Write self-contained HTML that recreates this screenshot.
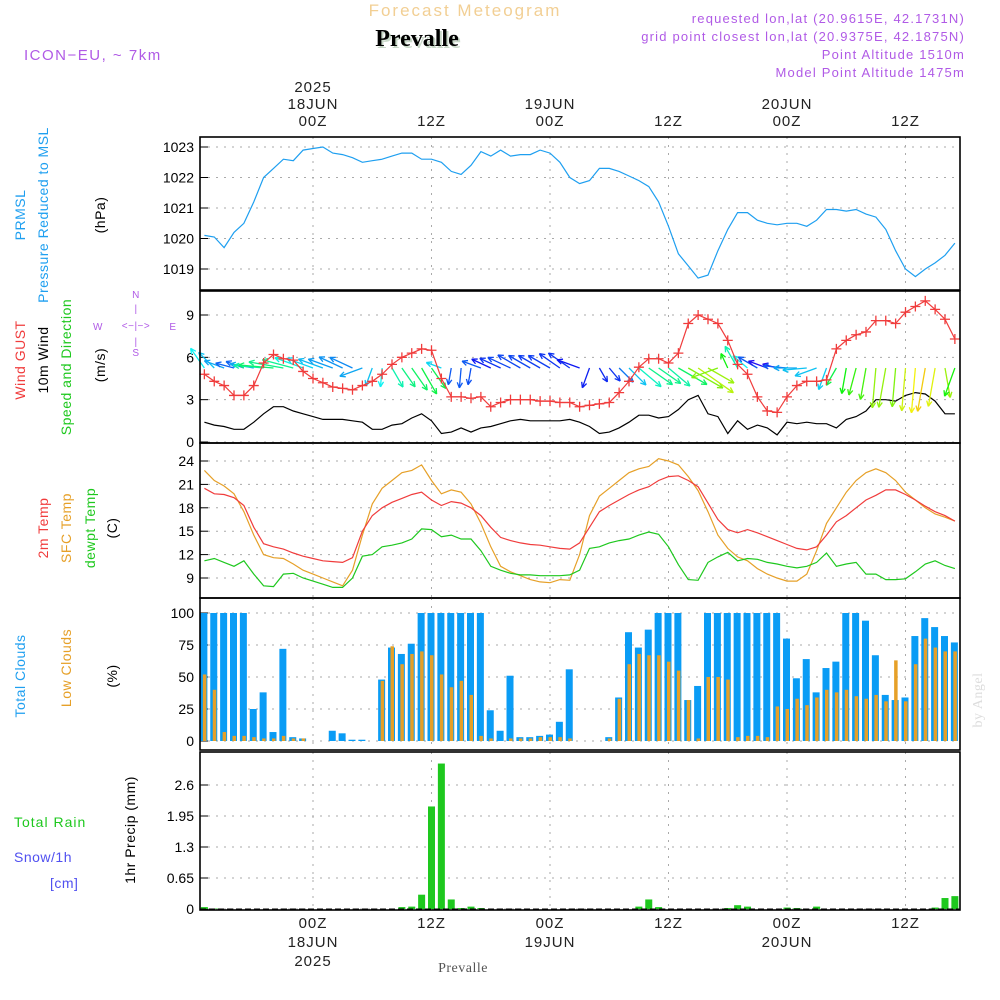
<!DOCTYPE html>
<html><head><meta charset="utf-8"><style>
html,body{margin:0;padding:0;background:#fff;}
svg{display:block;font-family:"Liberation Sans",sans-serif;}
</style></head><body>
<svg id="chart" width="1000" height="1000" viewBox="0 0 1000 1000" xmlns="http://www.w3.org/2000/svg">
<g>
<text x="465" y="16" text-anchor="middle" font-size="17" letter-spacing="2" fill="#f2cf94">Forecast Meteogram</text>
<text x="419" y="48" text-anchor="middle" font-family="Liberation Serif" font-weight="bold" font-size="24" fill="#c8d8c8">Prevalle</text>
<text x="417" y="46" text-anchor="middle" font-family="Liberation Serif" font-weight="bold" font-size="24" fill="#000">Prevalle</text>
<text x="24" y="60" font-size="15" letter-spacing="1.5" fill="#b05ae6">ICON−EU, ~ 7km</text>
<g font-size="13" letter-spacing="1.2" fill="#b05ae6" text-anchor="end">
<text x="965" y="23">requested lon,lat (20.9615E, 42.1731N)</text>
<text x="965" y="41">grid point closest lon,lat (20.9375E, 42.1875N)</text>
<text x="965" y="59">Point Altitude 1510m</text>
<text x="965" y="77">Model Point Altitude 1475m</text>
</g>
</g>
<g id="axes"></g>
<g id="labels" font-size="14" letter-spacing="0.5">
<text transform="translate(25,215) rotate(-90)" text-anchor="middle" fill="#1e9ff0">PRMSL</text>
<text transform="translate(48,215) rotate(-90)" text-anchor="middle" fill="#1e9ff0">Pressure Reduced to MSL</text>
<text transform="translate(105,215) rotate(-90)" text-anchor="middle" fill="#000">(hPa)</text>
<text transform="translate(25,360) rotate(-90)" text-anchor="middle" fill="#f03c3c">Wind GUST</text>
<text transform="translate(48,360) rotate(-90)" text-anchor="middle" fill="#000">10m Wind</text>
<text transform="translate(71,367) rotate(-90)" text-anchor="middle" fill="#1ec81e">Speed and Direction</text>
<text transform="translate(105,365) rotate(-90)" text-anchor="middle" fill="#000">(m/s)</text>
<g fill="#b05ae6" font-size="10" text-anchor="middle">
<text x="136" y="298">N</text><text x="136" y="356">S</text><text x="98" y="330">W</text><text x="173" y="330">E</text>
<text x="136" y="329" font-size="10">&lt;−|−&gt;</text>
<text x="136" y="312">|</text><text x="136" y="345">|</text>
</g>
<text transform="translate(48,528) rotate(-90)" text-anchor="middle" fill="#f03c3c">2m Temp</text>
<text transform="translate(71,528) rotate(-90)" text-anchor="middle" fill="#e6a028">SFC Temp</text>
<text transform="translate(95,528) rotate(-90)" text-anchor="middle" fill="#1ec81e">dewpt Temp</text>
<text transform="translate(117,528) rotate(-90)" text-anchor="middle" fill="#000">(C)</text>
<text transform="translate(25,676) rotate(-90)" text-anchor="middle" fill="#1e9ff0">Total Clouds</text>
<text transform="translate(71,668) rotate(-90)" text-anchor="middle" fill="#e6a028">Low Clouds</text>
<text transform="translate(117,676) rotate(-90)" text-anchor="middle" fill="#000">(%)</text>
<text x="14" y="827" fill="#1ec81e" letter-spacing="1">Total  Rain</text>
<text x="14" y="862" fill="#5050f0">Snow/1h</text>
<text x="50" y="888" fill="#5050f0">[cm]</text>
<text transform="translate(135,830) rotate(-90)" text-anchor="middle" fill="#000">1hr Precip (mm)</text>
<text transform="translate(982,700) rotate(-90)" text-anchor="middle" font-family="Liberation Serif" fill="#ddd">by Angel</text>
<text x="463" y="972" text-anchor="middle" font-family="Liberation Serif" fill="#555">Prevalle</text>
</g>
</svg>
<script>
const hours = Array.from({length:77},(_, i)=> i-11);
const pressure=[1020.1,1020.05,1019.7,1020.2,1020.5,1021.2,1022.0,1022.3,1022.6,1022.55,1022.9,1022.95,1023.0,1022.8,1022.75,1022.65,1022.5,1022.55,1022.6,1022.7,1022.8,1022.8,1022.6,1022.6,1022.5,1022.2,1022.1,1022.4,1022.85,1022.7,1022.9,1022.7,1022.75,1022.75,1022.9,1022.8,1022.5,1022.0,1021.8,1021.9,1022.3,1022.3,1022.2,1022.05,1021.9,1021.7,1021.2,1020.4,1019.5,1019.1,1018.7,1018.8,1019.6,1020.3,1020.85,1020.85,1020.6,1020.5,1020.45,1020.5,1020.5,1020.4,1020.6,1020.95,1020.95,1020.9,1020.95,1020.8,1020.7,1020.3,1019.6,1019.0,1018.75,1019.0,1019.2,1019.45,1019.85];
const gust=[4.8,4.3,4.0,3.3,3.3,4.0,5.6,6.2,5.9,5.8,5.0,4.5,4.2,3.9,3.8,3.7,4.0,4.3,4.8,5.5,6.0,6.3,6.6,6.5,4.5,3.2,3.2,3.1,3.2,2.5,2.8,3.0,3.0,3.0,2.9,2.9,2.8,2.8,2.5,2.6,2.7,2.8,3.5,4.3,5.3,5.9,5.9,5.6,6.3,8.4,9.0,8.7,8.4,7.2,5.5,4.8,3.2,2.2,2.1,3.2,4.0,4.3,4.3,4.4,6.6,7.2,7.6,7.8,8.6,8.6,8.4,9.2,9.6,10.0,9.4,8.7,7.3];
const wind10=[1.4,1.2,1.1,0.9,0.9,1.4,2.0,2.5,2.5,2.2,2.0,1.8,1.6,1.6,1.6,1.5,1.4,0.9,0.9,1.2,1.3,1.7,2.0,1.5,0.6,0.7,1.0,0.7,1.0,1.1,1.3,1.5,1.6,1.5,1.5,1.5,1.5,1.6,1.4,1.1,0.6,0.7,1.0,1.4,1.9,1.9,1.7,1.8,2.3,3.0,3.3,2.0,1.8,0.6,1.5,0.9,1.2,1.0,0.5,1.4,1.3,1.4,1.3,1.3,1.0,1.6,1.8,2.2,3.0,3.0,2.9,3.3,3.5,3.4,2.9,2.0,2.0];
const windDir=[235,225,200,195,200,190,185,185,190,195,200,200,200,200,205,205,160,110,95,60,55,55,60,55,200,100,95,100,200,205,205,205,210,210,210,210,215,215,200,110,60,50,45,45,40,35,35,40,30,30,35,30,160,245,240,220,210,200,195,185,180,175,160,110,120,100,105,100,95,100,95,95,95,100,100,80,110];
const t2m=[20.5,19.8,19.7,19.3,18.3,15.5,13.4,13.0,12.7,12.2,11.8,11.5,11.2,11.1,11.0,11.6,15.0,17.0,18.0,18.7,19.2,19.7,20.0,19.0,18.3,18.8,18.6,18.0,17.0,15.5,14.2,13.8,13.5,13.3,13.2,13.0,12.8,12.7,13.5,15.5,17.5,18.3,19.0,19.7,20.3,20.7,21.5,22.0,22.1,21.5,20.7,18.6,16.5,15.2,14.8,15.2,14.8,14.3,13.8,13.3,12.8,12.6,13.0,14.5,16.2,17.0,18.0,19.0,19.6,20.3,20.3,19.7,19.0,18.2,17.5,17.0,16.3];
const tsfc=[22.8,21.5,20.8,19.8,17.5,14.5,12.0,11.6,11.5,10.8,10.0,9.5,9.0,8.5,8.0,10.0,14.5,18.5,20.5,21.5,22.5,22.8,23.5,21.5,19.8,20.3,20.0,18.5,16.0,13.0,10.5,9.8,9.3,8.8,8.5,8.4,8.8,8.7,12.0,17.0,19.5,20.5,21.5,22.5,23.0,23.3,24.3,24.0,23.5,22.0,20.2,17.5,14.5,12.8,11.7,11.2,10.2,9.5,9.0,8.6,8.6,9.5,12.5,16.0,18.0,20.0,21.5,22.5,23.0,22.5,21.5,20.0,19.0,18.0,17.2,16.8,16.3];
const dewpt=[11.2,11.5,11.0,10.5,11.2,9.5,8.0,7.9,9.5,9.6,9.0,8.6,8.2,7.8,7.8,9.0,11.8,12.0,13.0,13.2,13.5,14.0,15.3,15.2,14.3,14.5,14.0,14.0,12.5,10.5,10.0,9.6,9.4,9.4,9.3,9.3,9.3,9.4,10.0,12.8,13.0,13.5,13.8,14.0,14.5,14.9,14.6,13.0,10.7,8.8,8.7,11.0,11.7,12.3,11.2,11.5,11.4,11.0,10.8,10.5,10.3,10.5,11.0,12.2,10.5,10.8,11.0,9.5,9.5,8.8,8.8,8.9,9.8,10.8,11.2,10.6,10.2];
const totalCloud=[100,100,100,100,100,25,38,7,72,3,2,0,0,8,6,1,1,0,48,73,68,76,100,100,100,100,100,100,100,24,8,51,3,3,4,5,15,56,0,0,0,3,34,85,73,87,100,100,100,32,43,100,100,100,100,100,100,100,100,80,49,64,38,57,62,100,100,94,67,36,32,34,82,96,89,82,77];
const lowCloud=[52,40,7,4,4,3,2,2,4,2,2,0,0,0,0,0,0,0,47,74,60,68,70,67,52,42,47,36,4,2,0,2,2,2,3,3,3,2,0,0,0,2,33,60,68,67,67,62,55,32,2,50,50,48,3,4,4,3,27,25,33,28,34,40,38,40,35,33,36,31,63,31,60,80,73,70,70];
const precip=[0.04,0.01,0,0,0,0,0,0,0,0,0,0,0,0,0,0,0,0,0,0,0.04,0.05,0.3,2.15,3.05,0.2,0.02,0.05,0.02,0,0,0,0,0,0,0,0,0,0,0,0,0,0,0,0.05,0.2,0.04,0,0,0,0,0,0,0.02,0.08,0.05,0,0,0,0.03,0.02,0,0.05,0,0,0,0,0,0,0,0,0,0,0,0.03,0.23,0.27];
const pTicks=[1019,1020,1021,1022,1023], wTicks=[0,3,6,9], tTicks=[9,12,15,18,21,24], cTicks=[0,25,50,75,100], rTicks=[0,0.65,1.3,1.95,2.6];
const rTickLabels=["0","0.65","1.3","1.95","2.6"];
const timeTicks=[0,12,24,36,48,60];
const timeTickLabels=["00Z","12Z","00Z","12Z","00Z","12Z"];
const dateLabels={0:"18JUN",24:"19JUN",48:"20JUN"};

const NS="http://www.w3.org/2000/svg";
const svg=document.getElementById('axes');
const X0=200,X1=960;
const xh=h=>313+h*9.875;
const lin=(v0,p0,v1,p1)=>v=>p0+(v-v0)*(p1-p0)/(v1-v0);
function el(tag,attrs,parent){const e=document.createElementNS(NS,tag);for(const k in attrs)e.setAttribute(k,attrs[k]);(parent||svg).appendChild(e);return e;}
function txt(s,x,y,attrs){const e=el('text',Object.assign({x:x,y:y},attrs||{}));e.textContent=s;return e;}
const panels=[
 {name:'pressure',top:137,bot:290,y:lin(1019,269,1023,147),ticks:pTicks,labels:pTicks.map(String)},
 {name:'wind',top:291,bot:443,y:lin(0,442,9,315),ticks:wTicks,labels:wTicks.map(String)},
 {name:'temperature',top:443,bot:598,y:lin(9,578,24,461),ticks:tTicks,labels:tTicks.map(String)},
 {name:'clouds',top:598,bot:750,y:lin(0,741,100,613),ticks:cTicks,labels:cTicks.map(String)},
 {name:'precip',top:752,bot:910,y:lin(0,909,2.6,785),ticks:rTicks,labels:rTickLabels}
];
panels.forEach(p=>{
 const g=el('g',{});
 
 
 p.g=g;
 p.ticks.forEach((t,i)=>{
  const yy=p.y(t);
  const gl=el('line',{x1:X0,x2:X1,y1:yy,y2:yy,stroke:'#aaa','stroke-dasharray':'2,6'},g);
  
  
  el('line',{x1:X0,x2:X0+8,y1:yy,y2:yy,stroke:'#000'},g);
  const tl=txt(p.labels[i],X0-6,yy+5,{'text-anchor':'end','font-size':'14',fill:'#000'});
  g.appendChild(tl);
  
  
 });
 timeTicks.forEach(h=>{
  const x=xh(h);
  el('line',{x1:x,x2:x,y1:p.top,y2:p.bot,stroke:'#aaa','stroke-dasharray':'2,6'},g);
 });
});
function polyline(p,vals,color,name){
 const pts=vals.map((v,i)=>xh(hours[i]).toFixed(1)+','+p.y(v).toFixed(1)).join(' ');
 const l=el('polyline',{points:pts,fill:'none',stroke:color,'stroke-width':1.2},p.g);
 
 
 return l;
}
const pp=panels[0];
polyline(pp,pressure,'#1e9ff0','pressure-line');
const wp=panels[1];
polyline(wp,wind10,'#000','wind-10m-line');
function speedColor(s){const h=Math.max(0,300-s*25);return 'hsl('+h+',90%,50%)';}
windDir.forEach((d,i)=>{
 const x=xh(hours[i]),y=368,len=10+wind10[i]*10;
 const a=d*Math.PI/180,x2=x+len*Math.cos(a),y2=y+len*Math.sin(a);
 const c=speedColor(gust[i]);
 const g=el('g',{stroke:c,'stroke-width':1.3,fill:'none'},wp.g);
 
 
 el('line',{x1:x,y1:y,x2:x2,y2:y2},g);
 [a+Math.PI-0.45,a+Math.PI+0.45].forEach(b=>el('line',{x1:x2,y1:y2,x2:x2+6*Math.cos(b),y2:y2+6*Math.sin(b)},g));
});
polyline(wp,gust,'#f03c3c','wind-gust-line');
gust.forEach((v,i)=>{
 const x=xh(hours[i]),y=wp.y(v);
 const m=el('path',{d:`M${x-5},${y}H${x+5}M${x},${y-5}V${y+5}`,stroke:'#f03c3c','stroke-width':1.3},wp.g);
 
 
});
const tp=panels[2];
polyline(tp,tsfc,'#e6a028','sfc-temp-line');
polyline(tp,t2m,'#f03c3c','t2m-line');
polyline(tp,dewpt,'#1ec81e','dewpt-line');
const cp=panels[3];
totalCloud.forEach((v,i)=>{
 const x=xh(hours[i]);
 const b=el('rect',{x:x-4,y:cp.y(v),width:7,height:cp.y(0)-cp.y(v),fill:'#0a9cf5'},cp.g);
 
 
});
lowCloud.forEach((v,i)=>{
 const x=xh(hours[i]);
 const b=el('rect',{x:x-1.5,y:cp.y(v),width:3.5,height:cp.y(0)-cp.y(v),fill:'#e6a028'},cp.g);
 
 
});
const rp=panels[4];
precip.forEach((v,i)=>{
 if(v<=0)return;
 const x=xh(hours[i]);
 const b=el('rect',{x:x-3.5,y:rp.y(v),width:7,height:rp.y(0)-rp.y(v),fill:'#1ec81e'},rp.g);
 
 
});
el('line',{x1:X0,x2:X1,y1:909,y2:909,stroke:'#000','stroke-dasharray':'6,3'},rp.g);
panels.forEach(p=>{const r=el('rect',{x:X0,y:p.top,width:X1-X0,height:p.bot-p.top,fill:'none',stroke:'#000','stroke-width':1.6},p.g);
 });
timeTicks.forEach((h,i)=>{
 const x=xh(h);
 const a=txt(timeTickLabels[i],x,126,{'text-anchor':'middle','font-size':'15',fill:'#222','letter-spacing':'1'});
 
 const b=txt(timeTickLabels[i],x,928,{'text-anchor':'middle','font-size':'15',fill:'#222','letter-spacing':'1'});
 
 if(dateLabels[h]){
  const c=txt(dateLabels[h],x,109,{'text-anchor':'middle','font-size':'15',fill:'#222','letter-spacing':'1'});
  
  const d=txt(dateLabels[h],x,947,{'text-anchor':'middle','font-size':'15',fill:'#222','letter-spacing':'1'});
  
 }
});
const y1=txt('2025',xh(0),92,{'text-anchor':'middle','font-size':'15',fill:'#222','letter-spacing':'1'});

const y2=txt('2025',xh(0),966,{'text-anchor':'middle','font-size':'15',fill:'#222','letter-spacing':'1'});

</script>
</body></html>
